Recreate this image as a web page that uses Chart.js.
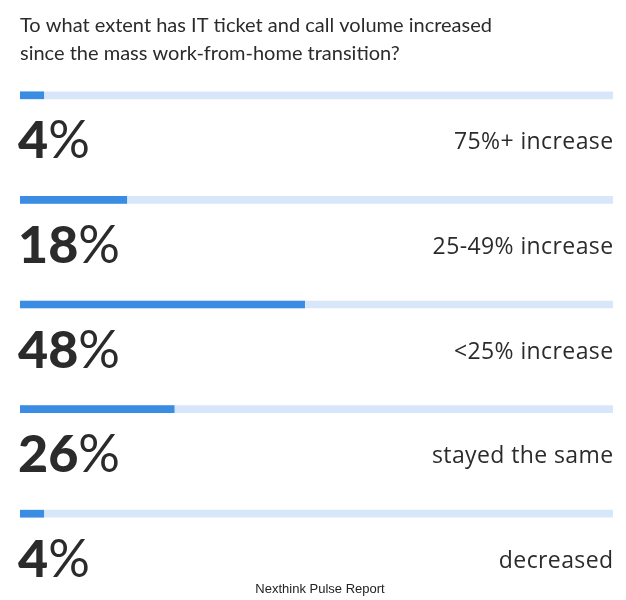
<!DOCTYPE html>
<html>
<head>
<meta charset="utf-8">
<script src="https://cdn.jsdelivr.net/npm/chart.js@4"></script>
<style>
  html, body { margin: 0; padding: 0; background: #fff; }
  #wrap { width: 626px; height: 600px; position: relative; }
</style>
</head>
<body>
<div id="wrap"><canvas id="chart"></canvas></div>
<script>
const titleLines = ['To what extent has IT ticket and call volume increased', 'since the mass work-from-home transition?'];
const categories = ['75%+ increase', '25-49% increase', '<25% increase', 'stayed the same', 'decreased'];
const shares = [4, 18, 48, 26, 4];
const trackValues = [100, 100, 100, 100, 100];
const sourceNote = 'Nexthink Pulse Report';

// draws title, big percentages, category labels and footer
const labelsPlugin = {
    id: 'rowLabels',
    afterDraw(chart) {
        const ctx = chart.ctx;
        const yScale = chart.scales.y;
        const area = chart.chartArea;
        ctx.save();
        ctx.fillStyle = '#2b2b2b';
        ctx.textBaseline = 'alphabetic';

        ctx.font = '20px Lato';
        ctx.textAlign = 'left';
        titleLines.forEach((line, i) => ctx.fillText(line, 20, 32 + i * 28));

        categories.forEach((cat, i) => {
            const yc = yScale.getPixelForValue(i);
            const num = String(shares[i]);
            const x0 = area.left - 2;
            ctx.letterSpacing = '0px';
            ctx.textAlign = 'left';
            ctx.font = '900 52px Lato';
            ctx.fillText(num, x0, yc + 63);
            const w = ctx.measureText(num).width;
            ctx.font = '52px Lato';
            ctx.fillText('%', x0 + w, yc + 63);

            ctx.font = '23px "Open Sans"';
            ctx.letterSpacing = '0.4px';
            ctx.textAlign = 'right';
            ctx.fillText(cat, area.right + 0.5, yc + 54);
        });

        ctx.letterSpacing = '0px';
        ctx.font = '13px "Liberation Sans"';
        ctx.textAlign = 'center';
        ctx.fillStyle = '#222';
        ctx.fillText(sourceNote, 320, 593);
        ctx.restore();
    }
};

new Chart(document.getElementById('chart'), {
    type: 'bar',
    data: {
        labels: categories,
        datasets: [
            { label: 'Share', data: shares, backgroundColor: '#3a8de3', barThickness: 7, grouped: false },
            { label: 'Track', data: trackValues, backgroundColor: '#d7e7f9', barThickness: 7, grouped: false }
        ]
    },
    options: {
        indexAxis: 'y',
        responsive: true,
        maintainAspectRatio: false,
        animation: false,
        layout: { padding: { top: 43, bottom: 34, left: 20, right: 13 } },
        scales: {
            x: { display: false, min: 0, max: 100 },
            y: { display: false }
        },
        plugins: {
            legend: { display: false },
            tooltip: { enabled: false }
        }
    },
    plugins: [labelsPlugin]
});
</script>
</body>
</html>
